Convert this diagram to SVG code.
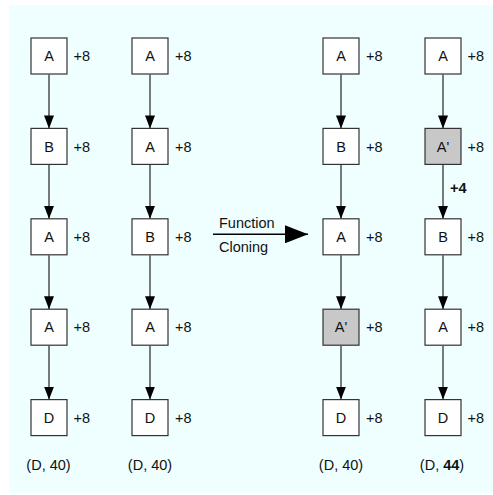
<svg xmlns="http://www.w3.org/2000/svg" width="493" height="495" viewBox="0 0 493 495">
  <style>
    .box { fill: #ffffff; stroke: #333333; stroke-width: 1.2; }
    .box.clone { fill: #c8c8c8; }
    .lbl { font-family: "Liberation Sans", Arial, sans-serif; font-size: 14.5px; fill: #111111; }
    .mid { text-anchor: middle; }
    .edge { stroke: #333333; stroke-width: 1.3; fill: none; marker-end: url(#head); }
    .bold { font-weight: bold; }
  </style>
  <defs>
    <!-- small arrowhead for the call edges -->
    <marker id="head" markerUnits="userSpaceOnUse" markerWidth="14" markerHeight="10" refX="13" refY="5" orient="auto" viewBox="0 0 14 10">
      <path d="M0,0 L13,5 L0,10 Z" fill="#000000"/>
    </marker>
    <!-- large arrowhead for the transformation arrow -->
    <marker id="bighead" markerUnits="userSpaceOnUse" markerWidth="24" markerHeight="18" refX="23" refY="9" orient="auto" viewBox="0 0 24 18">
      <path d="M0,0 L23,9 L0,18 Z" fill="#000000"/>
    </marker>
  </defs>

  <!-- backdrop -->
  <rect x="9" y="5" width="484" height="488" fill="#efffff"/>

  <!-- connectors -->
  <g id="connectors">
    <path class="edge" d="M49,74.5 V128.4"/>
    <path class="edge" d="M49,164.9 V218.8"/>
    <path class="edge" d="M49,255.3 V309.2"/>
    <path class="edge" d="M49,345.7 V399.6"/>

    <path class="edge" d="M150,74.5 V128.4"/>
    <path class="edge" d="M150,164.9 V218.8"/>
    <path class="edge" d="M150,255.3 V309.2"/>
    <path class="edge" d="M150,345.7 V399.6"/>

    <path class="edge" d="M341,74.5 V128.4"/>
    <path class="edge" d="M341,164.9 V218.8"/>
    <path class="edge" d="M341,255.3 V309.2"/>
    <path class="edge" d="M341,345.7 V399.6"/>

    <path class="edge" d="M443,74.5 V128.4"/>
    <path class="edge" d="M443,164.9 V218.8"/>
    <path class="edge" d="M443,255.3 V309.2"/>
    <path class="edge" d="M443,345.7 V399.6"/>

    <!-- transformation arrow -->
    <line x1="213" y1="234.3" x2="308" y2="234.3" stroke="#000000" stroke-width="1.5" marker-end="url(#bighead)"/>
  </g>

  <!-- column 1: original -->
  <g id="c1n1"><rect class="box" x="31" y="38" width="36" height="36"/><text class="lbl mid" x="49" y="61.2">A</text><text class="lbl" x="73.5" y="61.2">+8</text></g>
  <g id="c1n2"><rect class="box" x="31" y="128.4" width="36" height="36"/><text class="lbl mid" x="49" y="151.6">B</text><text class="lbl" x="73.5" y="151.6">+8</text></g>
  <g id="c1n3"><rect class="box" x="31" y="218.8" width="36" height="36"/><text class="lbl mid" x="49" y="242">A</text><text class="lbl" x="73.5" y="242">+8</text></g>
  <g id="c1n4"><rect class="box" x="31" y="309.2" width="36" height="36"/><text class="lbl mid" x="49" y="332.4">A</text><text class="lbl" x="73.5" y="332.4">+8</text></g>
  <g id="c1n5"><rect class="box" x="31" y="399.6" width="36" height="36"/><text class="lbl mid" x="49" y="422.8">D</text><text class="lbl" x="73.5" y="422.8">+8</text></g>
  <text id="c1sum" class="lbl mid" x="48.5" y="470">(D, 40)</text>

  <!-- column 2: original -->
  <g id="c2n1"><rect class="box" x="132" y="38" width="36" height="36"/><text class="lbl mid" x="150" y="61.2">A</text><text class="lbl" x="175" y="61.2">+8</text></g>
  <g id="c2n2"><rect class="box" x="132" y="128.4" width="36" height="36"/><text class="lbl mid" x="150" y="151.6">A</text><text class="lbl" x="175" y="151.6">+8</text></g>
  <g id="c2n3"><rect class="box" x="132" y="218.8" width="36" height="36"/><text class="lbl mid" x="150" y="242">B</text><text class="lbl" x="175" y="242">+8</text></g>
  <g id="c2n4"><rect class="box" x="132" y="309.2" width="36" height="36"/><text class="lbl mid" x="150" y="332.4">A</text><text class="lbl" x="175" y="332.4">+8</text></g>
  <g id="c2n5"><rect class="box" x="132" y="399.6" width="36" height="36"/><text class="lbl mid" x="150" y="422.8">D</text><text class="lbl" x="175" y="422.8">+8</text></g>
  <text id="c2sum" class="lbl mid" x="150" y="470">(D, 40)</text>

  <!-- transformation label -->
  <g id="cloning">
    <text class="lbl" x="219" y="227.5">Function</text>
    <text class="lbl" x="219" y="251.5">Cloning</text>
  </g>

  <!-- column 3: cloned -->
  <g id="c3n1"><rect class="box" x="323" y="38" width="36" height="36"/><text class="lbl mid" x="341" y="61.2">A</text><text class="lbl" x="366" y="61.2">+8</text></g>
  <g id="c3n2"><rect class="box" x="323" y="128.4" width="36" height="36"/><text class="lbl mid" x="341" y="151.6">B</text><text class="lbl" x="366" y="151.6">+8</text></g>
  <g id="c3n3"><rect class="box" x="323" y="218.8" width="36" height="36"/><text class="lbl mid" x="341" y="242">A</text><text class="lbl" x="366" y="242">+8</text></g>
  <g id="c3n4"><rect class="box clone" x="323" y="309.2" width="36" height="36"/><text class="lbl mid" x="341" y="332.4">A'</text><text class="lbl" x="366" y="332.4">+8</text></g>
  <g id="c3n5"><rect class="box" x="323" y="399.6" width="36" height="36"/><text class="lbl mid" x="341" y="422.8">D</text><text class="lbl" x="366" y="422.8">+8</text></g>
  <text id="c3sum" class="lbl mid" x="341" y="470">(D, 40)</text>

  <!-- column 4: cloned -->
  <g id="c4n1"><rect class="box" x="425" y="38" width="36" height="36"/><text class="lbl mid" x="443" y="61.2">A</text><text class="lbl" x="467.5" y="61.2">+8</text></g>
  <g id="c4n2"><rect class="box clone" x="425" y="128.4" width="36" height="36"/><text class="lbl mid" x="443" y="151.6">A'</text><text class="lbl" x="467.5" y="151.6">+8</text></g>
  <text id="c4edge" class="lbl bold" x="450" y="193">+4</text>
  <g id="c4n3"><rect class="box" x="425" y="218.8" width="36" height="36"/><text class="lbl mid" x="443" y="242">B</text><text class="lbl" x="467.5" y="242">+8</text></g>
  <g id="c4n4"><rect class="box" x="425" y="309.2" width="36" height="36"/><text class="lbl mid" x="443" y="332.4">A</text><text class="lbl" x="467.5" y="332.4">+8</text></g>
  <g id="c4n5"><rect class="box" x="425" y="399.6" width="36" height="36"/><text class="lbl mid" x="443" y="422.8">D</text><text class="lbl" x="467.5" y="422.8">+8</text></g>
  <text id="c4sum" class="lbl mid" x="442" y="470">(D, <tspan class="bold">44</tspan>)</text>
</svg>
